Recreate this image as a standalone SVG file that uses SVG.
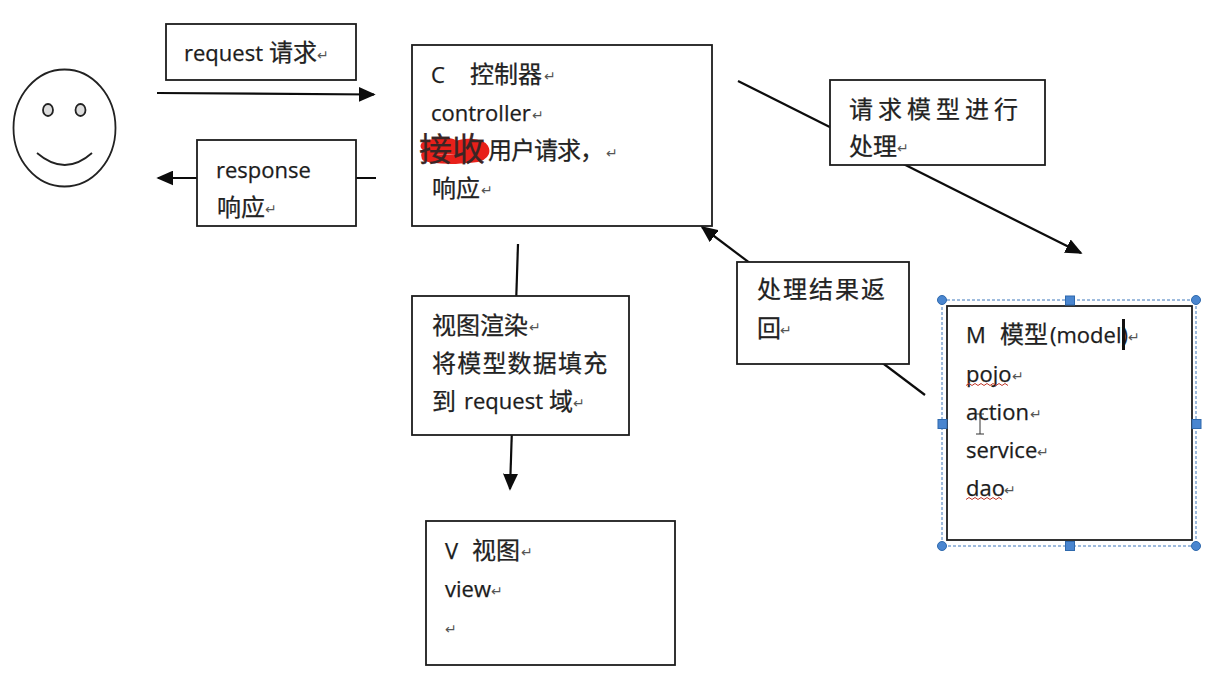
<svg xmlns="http://www.w3.org/2000/svg" width="1224" height="681" viewBox="0 0 1224 681">
<style>
text{font-family:"Open Sans","Noto Sans CJK SC",sans-serif;font-size:22px;fill:#1c1c1c;stroke:#1c1c1c;stroke-width:.25}
.zh{font-family:"Noto Sans CJK SC",sans-serif;font-size:24px;fill:#222;stroke:#222}
.r{font-family:"DejaVu Sans",sans-serif;font-size:14px;fill:#555;stroke:none}
.box{fill:#fff;stroke:#1c1c1c;stroke-width:1.8}
.ln{fill:none;stroke:#0c0c0c;stroke-width:2.200}
.h1{fill:#4a86d0;stroke:#2f69ad;stroke-width:1}
.sq{fill:none;stroke:#c0392b;stroke-width:1}
</style>
<defs>
<marker id="arr" viewBox="0 0 10 10" refX="9" refY="5" markerWidth="17" markerHeight="15" markerUnits="userSpaceOnUse" orient="auto" preserveAspectRatio="none"><path d="M0 0L10 5L0 10Z" fill="#0c0c0c"/></marker>
</defs>
<rect width="1224" height="681" fill="#fff"/>
<g id="connectors">
<path class="ln" d="M157 93L374 94.500" marker-end="url(#arr)"/>
<path class="ln" d="M376 178L158 178" marker-end="url(#arr)"/>
<path class="ln" d="M738 81L1081 253" marker-end="url(#arr)"/>
<path class="ln" d="M925 395L702 227" marker-end="url(#arr)"/>
<path class="ln" d="M518 244L510 489" marker-end="url(#arr)"/>
</g>
<g id="user">
<ellipse cx="64.500" cy="128" rx="51" ry="58.500" fill="#fff" stroke="#222" stroke-width="1.800"/>
<ellipse cx="48" cy="110" rx="5" ry="6" fill="#ddd" stroke="#222" stroke-width="1.800"/>
<ellipse cx="80.500" cy="110" rx="5" ry="6" fill="#ddd" stroke="#222" stroke-width="1.800"/>
<path d="M37 153Q65 177 92 153" fill="none" stroke="#222" stroke-width="1.800"/>
</g>
<g id="request-label">
<rect class="box" x="166" y="24" width="190" height="56"/>
<text x="184" y="61">request</text><text class="zh" x="269" y="61">请求</text><text class="r" x="317" y="60">↵</text>
</g>
<g id="response-label">
<rect class="box" x="197" y="140" width="159" height="86"/>
<text x="216" y="178">response</text>
<text class="zh" x="217" y="216">响应</text><text class="r" x="265" y="214">↵</text>
</g>
<g id="controller">
<rect class="box" x="412" y="45" width="300" height="181"/>
<text x="431" y="83">C</text><text class="zh" x="470" y="83">控制器</text><text class="r" x="544" y="81">↵</text>
<text x="431" y="121">controller</text><text class="r" x="532" y="120">↵</text>
<path d="M425 146C438 141 452 141 456 146C462 142 480 142 484 148C488 155 478 159 468 158C458 160 438 160 426 157C424 152 430 150 440 150C452 150 470 150 480 151" fill="none" stroke="#e8201a" stroke-width="9" stroke-linecap="round" stroke-linejoin="round"/>
<text class="zh" x="419" y="161" style="font-size:33px;fill:#3a2525;stroke:#3a2525">接收</text>
<text class="zh" x="488" y="159" letter-spacing="-1">用户请求，</text><text class="r" x="606" y="158">↵</text>
<text class="zh" x="432" y="197">响应</text><text class="r" x="481" y="195">↵</text>
</g>
<g id="process-request-label">
<rect class="box" x="830" y="80" width="215" height="85"/>
<text class="zh" x="849" y="118" letter-spacing="5">请求模型进行</text>
<text class="zh" x="849" y="155">处理</text><text class="r" x="897" y="153">↵</text>
</g>
<g id="result-label">
<rect class="box" x="737" y="262" width="172" height="102"/>
<text class="zh" x="757" y="298" letter-spacing="2">处理结果返</text>
<text class="zh" x="757" y="337">回</text><text class="r" x="780" y="335">↵</text>
</g>
<g id="render-label">
<rect class="box" x="412" y="296" width="217" height="139"/>
<text class="zh" x="432" y="334">视图渲染</text><text class="r" x="529" y="332">↵</text>
<text class="zh" x="432" y="372" letter-spacing="1.200">将模型数据填充</text>
<text class="zh" x="432" y="410">到</text><text x="464" y="409">request</text><text class="zh" x="549" y="410">域</text><text class="r" x="573" y="408">↵</text>
</g>
<g id="view">
<rect class="box" x="426" y="521" width="249" height="144"/>
<text x="445" y="559">V</text><text class="zh" x="472" y="559">视图</text><text class="r" x="521" y="557">↵</text>
<text x="445" y="597">view</text><text class="r" x="491" y="596">↵</text>
<text class="r" x="445" y="634">↵</text>
</g>
<g id="model">
<rect x="942" y="300" width="254" height="246" fill="none" stroke="#3f78bd" stroke-width="1" stroke-dasharray="3 2"/>
<rect class="box" x="947" y="306" width="245" height="234"/>
<text x="966" y="343">M</text><text class="zh" x="1000" y="343">模型</text><text x="1050" y="343">(model)</text><text class="r" x="1128" y="342">↵</text>
<rect x="1122" y="319" width="3" height="31" fill="#111"/>
<text x="966" y="382">pojo</text><text class="r" x="1012" y="381">↵</text>
<path class="sq" d="M966 385.500l3-2 3 2 3-2 3 2 3-2 3 2 3-2 3 2 3-2 3 2 3-2 3 2 3-2 3 2"/>
<text x="966" y="420">action</text><text class="r" x="1030" y="419">↵</text>
<path d="M976 414h4v20h-4M984 414h-4M984 434h-4" fill="none" stroke="#333" stroke-width="1"/>
<text x="966" y="458">service</text><text class="r" x="1037" y="457">↵</text>
<text x="966" y="496">dao</text><text class="r" x="1004" y="495">↵</text>
<path class="sq" d="M966 499.500l3-2 3 2 3-2 3 2 3-2 3 2 3-2 3 2 3-2 3 2 3-2 3 2"/>
<circle class="h1" cx="942" cy="300" r="4.500"/><circle class="h1" cx="1196" cy="300" r="4.500"/>
<circle class="h1" cx="942" cy="546" r="4.500"/><circle class="h1" cx="1196" cy="546" r="4.500"/>
<rect class="h1" x="1065.500" y="296" width="9" height="9"/><rect class="h1" x="1065.500" y="541.500" width="9" height="9"/>
<rect class="h1" x="938" y="419.500" width="9" height="9"/><rect class="h1" x="1192" y="419.500" width="9" height="9"/>
</g>
</svg>
